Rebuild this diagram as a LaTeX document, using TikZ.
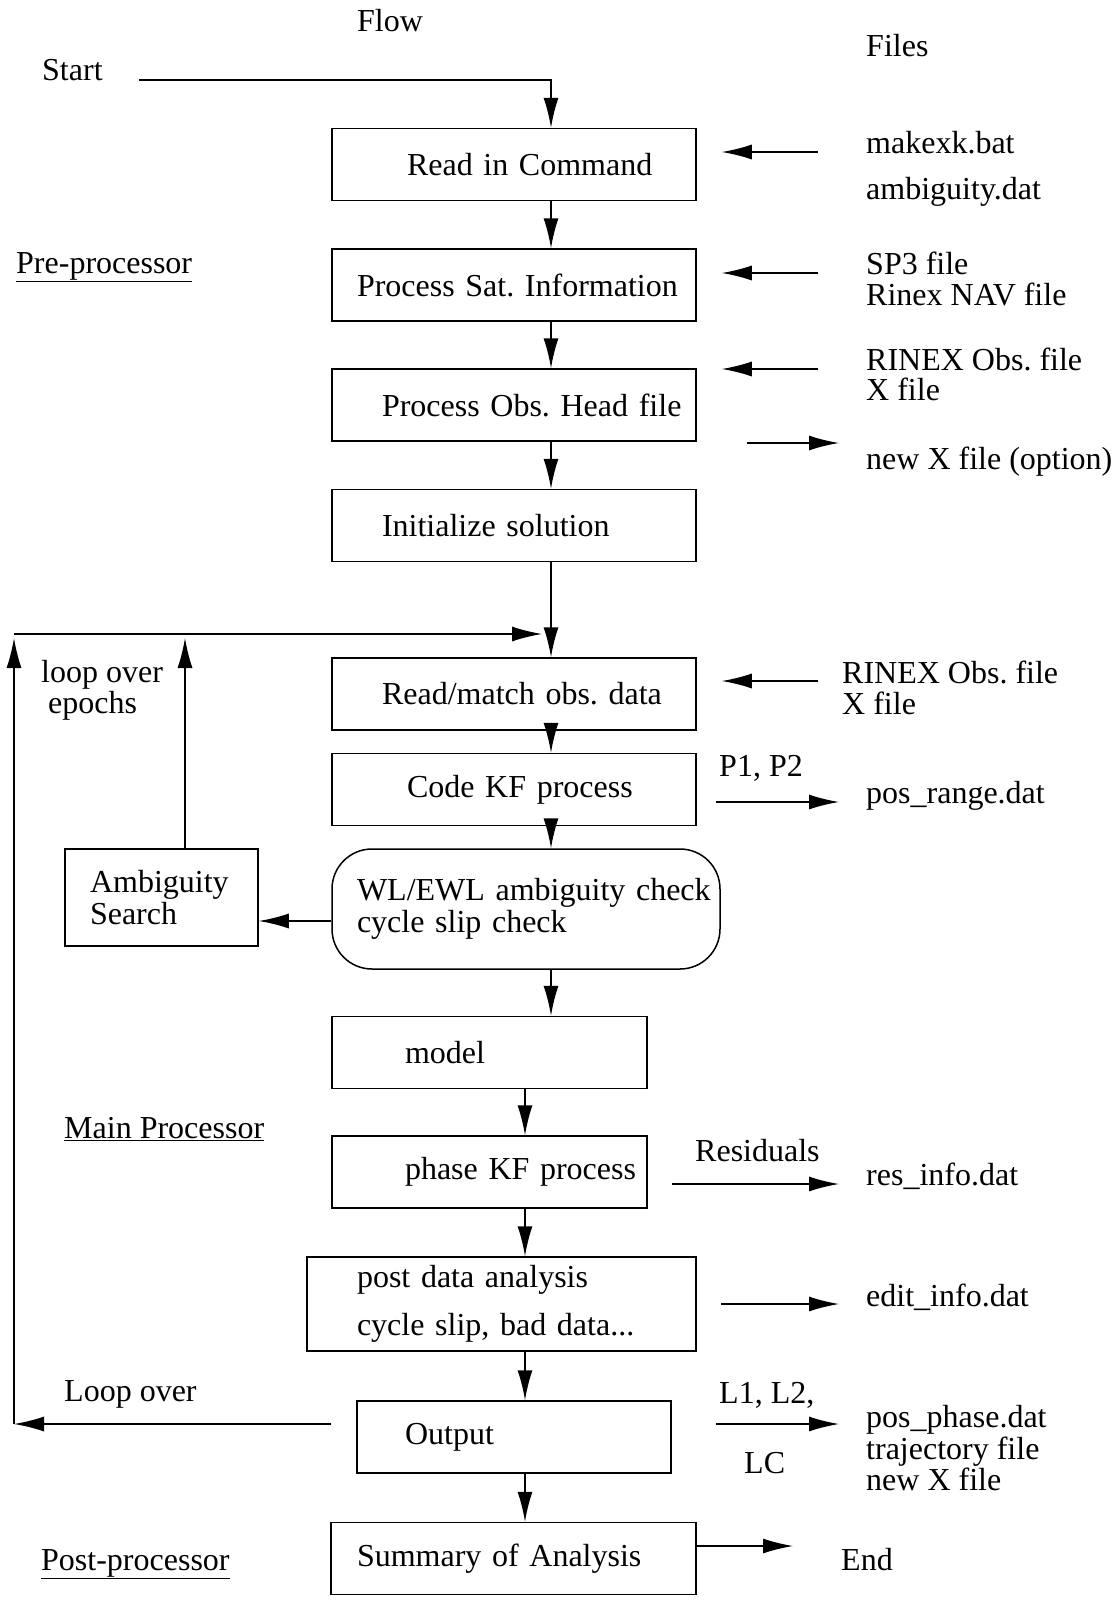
\documentclass[tikz,border=0pt]{standalone}
\usepackage{fontspec}
\setmainfont{Liberation Serif}
\usetikzlibrary{arrows.meta}
\frenchspacing
\begin{document}
\begin{tikzpicture}[
        x=1pt, y=-1pt, % координаты в пикселях
        font=\fontsize{32}{32}\selectfont,
        box/.style = {draw, line width=1.5pt, inner xsep=0pt, align=left, minimum height=72pt}, % Стиль блоков
        txt/.style = {anchor=base west, inner sep=0pt},
        arr/.style = {line width=1.5pt, -{Latex[length=30pt,width=15pt]}},
        wire/.style = {line width=1.5pt},
    ]
    \useasboundingbox (0,0) rectangle (1119,1606);
    \coordinate (colA) at (551,0);
    \coordinate (colB) at (525,0);

    % блоки
    \node[box, text width=364pt] (cmd) at (514,164.5) {\hspace*{75pt}Read in Command};
    \node[box, text width=364pt] (sat) at (514,285) {\hspace*{25pt}Process Sat. Information};
    \node[box, text width=364pt] (head) at (514,405) {\hspace*{50pt}Process Obs. Head file};
    \node[box, text width=364pt] (init) at (514,525.5) {\hspace*{50pt}Initialize solution};
    \node[box, text width=364pt] (readobs) at (514,694) {\hspace*{50pt}Read/match obs. data};
    \node[box, text width=364pt] (codekf) at (514,789.5) {\hspace*{75pt}Code KF process};
    \node[box, text width=388pt, minimum height=120pt, rounded corners=40pt] (wlcheck) at (526,909) {\hspace*{25pt}WL/EWL ambiguity check\\\hspace*{25pt}cycle slip check};
    \node[box, text width=193pt, minimum height=97pt] (ambsearch) at (161.5,897.5) {\hspace*{25pt}Ambiguity\\\hspace*{25pt}Search};
    \node[box, text width=315pt] (model) at (489.5,1052.5) {\hspace*{73pt}model};
    \node[box, text width=315pt] (phasekf) at (489.5,1172) {\hspace*{73pt}phase KF process};
    \node[box, text width=389pt, minimum height=94pt] (postdata) at (501.5,1304) {\hspace*{50pt}post data analysis\\[16pt]\hspace*{50pt}cycle slip, bad data...};
    \node[box, text width=314pt] (output) at (514,1437) {\hspace*{48pt}Output};
    \node[box, text width=365pt] (summary) at (513.5,1558.5) {\hspace*{26pt}Summary of Analysis};

    % подписи
    \node[txt] (flow) at (357,31) {Flow};
    \node[txt] (files) at (866,56) {Files};
    \node[txt] (start) at (42,80) {Start};
    \node[txt] (makexk) at (866,153) {makexk.bat};
    \node[txt] (ambdat) at (866,199) {ambiguity.dat};
    \node[txt] (sp3) at (866,274) {SP3 file};
    \node[txt] (nav) at (866,305) {Rinex NAV file};
    \node[txt] (rnxobsA) at (866,370) {RINEX Obs. file};
    \node[txt] (xfileA) at (866,400) {X file};
    \node[txt] (newxA) at (866,469) {new X file (option)};
    \node[txt] (preproc) at (16,273) {\underline{Pre-processor}};
    \node[txt] (loopep) at (41,682) {loop over};
    \node[txt] (epochs) at (48,713) {epochs};
    \node[txt] (rnxobsB) at (842,683) {RINEX Obs. file};
    \node[txt] (xfileB) at (842,714) {X file};
    \node[txt] (ptwo) at (719,776) {P1, P2};
    \node[txt] (posrange) at (866,803) {pos\_range.dat};
    \node[txt] (mainproc) at (64,1138) {\underline{Main Processor}};
    \node[txt] (resid) at (695,1161) {Residuals};
    \node[txt] (resinfo) at (866,1185) {res\_info.dat};
    \node[txt] (editinfo) at (866,1306) {edit\_info.dat};
    \node[txt] (loopover) at (64,1401) {Loop over};
    \node[txt] (ltwo) at (719,1403) {L1, L2,};
    \node[txt] (lc) at (744,1473) {LC};
    \node[txt] (posphase) at (866,1427) {pos\_phase.dat};
    \node[txt] (traj) at (866,1459) {trajectory file};
    \node[txt] (newxB) at (866,1490) {new X file};
    \node[txt] (postproc) at (41,1570) {\underline{Post-processor}};
    \node[txt] (endlbl) at (841,1570) {End};

    % основной поток
    \draw[arr] ([xshift=36pt]start.base east) -| (cmd.north -| colA);
    \foreach \a/\b in {cmd/sat, sat/head, head/init, init/readobs, readobs/codekf, codekf/wlcheck, wlcheck/model}
        \draw[arr] (\a.south -| colA) -- (\b.north -| colA);
    \foreach \a/\b in {model/phasekf, phasekf/postdata, postdata/output, output/summary}
        \draw[arr] (\a.south -| colB) -- (\b.north -| colB);

    % входные файлы
    \coordinate (inA) at (818,152);
    \coordinate (inB) at (818,273);
    \coordinate (inC) at (818,369);
    \coordinate (inD) at (818,681);
    \draw[arr, shorten >=25pt] (inA) -- (inA -| cmd.east);
    \draw[arr, shorten >=25pt] (inB) -- (inB -| sat.east);
    \draw[arr, shorten >=25pt] (inC) -- (inC -| head.east);
    \draw[arr, shorten >=25pt] (inD) -- (inD -| readobs.east);

    % выходные файлы
    \coordinate (outA) at (839,443);
    \coordinate (outB) at (839,802);
    \coordinate (outC) at (839,1184);
    \coordinate (outD) at (839,1304);
    \coordinate (outE) at (839,1424);
    \coordinate (endpt) at (793,1546);
    \draw[arr, shorten <=50pt] (outA -| head.east) -- (outA);
    \draw[arr, shorten <=19pt] (outB -| codekf.east) -- (outB);
    \draw[arr, shorten <=24pt] (outC -| phasekf.east) -- (outC);
    \draw[arr, shorten <=24pt] (outD -| postdata.east) -- (outD);
    \draw[arr, shorten <=44pt] (outE -| output.east) -- (outE);
    \draw[arr] (endpt -| summary.east) -- (endpt);

    % циклы
    \coordinate (lbot) at (14,1424);
    \coordinate (ltop) at (14,634);
    \coordinate (ambtop) at (185,634);
    \coordinate (join) at (542,634);
    \draw[arr, shorten <=25pt] (lbot -| output.west) -- (lbot);
    \draw[arr] (lbot) -- ([yshift=-4pt]ltop);
    \draw[arr] (ltop) -- (join);
    \draw[arr] (ambsearch.north -| ambtop) -- ([yshift=-4pt]ambtop);
    \coordinate (ambin) at ([yshift=-12pt]wlcheck.west);
    \draw[arr] (ambin) -- (ambin -| ambsearch.east);
\end{tikzpicture}
\end{document}
